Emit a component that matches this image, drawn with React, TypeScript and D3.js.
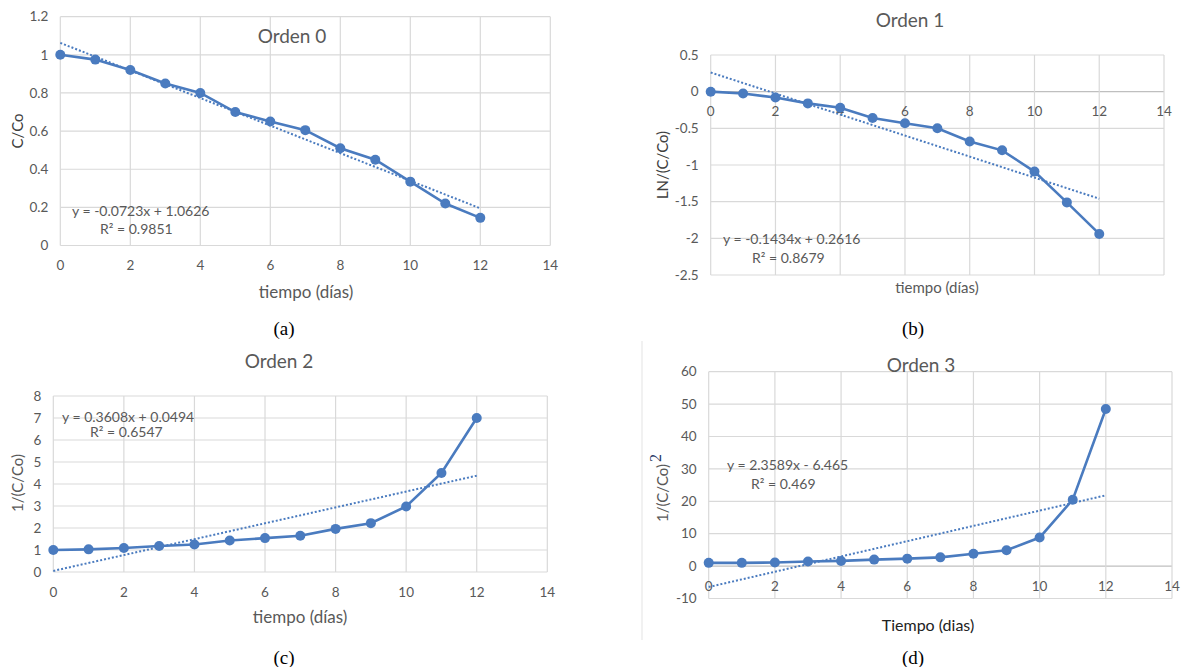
import React from 'react';
import * as d3 from 'd3';

// días de muestreo
const days = [0, 1, 2, 3, 4, 5, 6, 7, 8, 9, 10, 11, 12];

// valores por orden de reacción
const orden0 = [1, 0.975, 0.92, 0.85, 0.8, 0.7, 0.65, 0.605, 0.51, 0.45, 0.335, 0.22, 0.145];
const orden1 = [0, -0.025, -0.08, -0.16, -0.22, -0.36, -0.43, -0.5, -0.68, -0.8, -1.09, -1.51, -1.94];
const orden2 = [1, 1.03, 1.09, 1.18, 1.25, 1.43, 1.54, 1.65, 1.96, 2.22, 2.98, 4.5, 7.0];
const orden3 = [1, 1.0, 1.1, 1.4, 1.6, 2.0, 2.3, 2.7, 3.8, 4.9, 8.8, 20.5, 48.5];

// ajustes lineales (pendiente, intercepto)
const slopes = [-0.0723, -0.1434, 0.3608, 2.3589];
const intercepts = [1.0626, 0.2616, 0.0494, -6.465];
const eqLabels = ['y = -0.0723x + 1.0626', 'y = -0.1434x + 0.2616', 'y = 0.3608x + 0.0494', 'y = 2.3589x - 6.465'];
const r2Labels = ['R² = 0.9851', 'R² = 0.8679', 'R² = 0.6547', 'R² = 0.469'];

const xTicks = [0, 2, 4, 6, 8, 10, 12, 14];
const yTicks0 = [0, 0.2, 0.4, 0.6, 0.8, 1, 1.2];
const yTicks1 = [0.5, 0, -0.5, -1, -1.5, -2, -2.5];
const yTicks2 = [0, 1, 2, 3, 4, 5, 6, 7, 8];
const yTicks3 = [60, 50, 40, 30, 20, 10, 0, -10];

const BLUE = '#4a7bbf';
const GRID = '#d9d9d9';
const TXT = '#595959';
const FONT = 'Lato, "Open Sans", sans-serif';
const SERIF = '"Liberation Serif", "DejaVu Serif", serif';

type PanelProps = {
  values: number[];
  idx: number;
  yTicks: number[];
  xr: [number, number];
  yr: [number, number];
  yDom: [number, number];
  labelsAtZero?: boolean;
  eqPos: [number, number, number, number];
};

function Panel({ values, idx, yTicks, xr, yr, yDom, labelsAtZero, eqPos }: PanelProps) {
  const x = d3.scaleLinear().domain([0, 14]).range(xr);
  const y = d3.scaleLinear().domain(yDom).range(yr);
  const line = d3.line<number>().x((_, i) => x(days[i])).y(d => y(d));
  const fitY = (t: number) => slopes[idx] * t + intercepts[idx];
  const labelY = labelsAtZero ? y(0) + 20 : yr[0] + 20;
  const yMin = Math.min(...yDom), yMax = Math.max(...yDom);
  return (
    <g>
      {yTicks.map(t => (
        <line key={'h' + t} x1={xr[0]} x2={xr[1]} y1={y(t)} y2={y(t)}
          stroke={t === 0 && labelsAtZero ? '#bfbfbf' : GRID} strokeWidth={1.2} />
      ))}
      {xTicks.map(t => (
        <line key={'v' + t} x1={x(t)} x2={x(t)} y1={y(yMin)} y2={y(yMax)} stroke={GRID} strokeWidth={1.2} />
      ))}
      {yTicks.map(t => (
        <text key={'yl' + t} x={xr[0] - 12} y={y(t)} dy="0.35em" textAnchor="end"
          fontSize={13.5} fill={TXT} fontFamily={FONT}>{t}</text>
      ))}
      {xTicks.map(t => (
        <text key={'xl' + t} x={x(t)} y={labelY} dy="0.35em" textAnchor="middle"
          fontSize={13.5} fill={TXT} fontFamily={FONT}>{t}</text>
      ))}
      <line x1={x(0)} x2={x(12)} y1={y(fitY(0))} y2={y(fitY(12))}
        stroke={BLUE} strokeWidth={2} strokeDasharray="2 2" />
      <path d={line(values) || ''} fill="none" stroke={BLUE} strokeWidth={2.6} />
      {values.map((v, i) => (
        <circle key={i} cx={x(days[i])} cy={y(v)} r={5} fill={BLUE} />
      ))}
      <text x={eqPos[0]} y={eqPos[1]} dy="0.35em" fontSize={14} fill={TXT} fontFamily={FONT}>{eqLabels[idx]}</text>
      <text x={eqPos[2]} y={eqPos[3]} dy="0.35em" fontSize={14} fill={TXT} fontFamily={FONT}>{r2Labels[idx]}</text>
    </g>
  );
}

export default function App() {
  const titleStyle = { fontSize: 19, fill: TXT, fontFamily: FONT };
  const axStyle = { fill: TXT, fontFamily: FONT };
  const cap = { fontSize: 19, fill: '#000', style: { fontFamily: SERIF } };
  return (
    <svg width={1182} height={667} style={{ position: 'absolute', left: 0, top: 0, background: '#fff' }}>
      {/* (a) Orden 0 */}
      <Panel values={orden0} idx={0} yTicks={yTicks0} xr={[60.3, 550.3]} yr={[245.5, 16.7]} yDom={[0, 1.2]}
        eqPos={[72, 211, 100, 229]} />
      <text x={292} y={36} dy="0.35em" textAnchor="middle" {...titleStyle}>Orden 0</text>
      <text transform="translate(18,131) rotate(-90)" dy="0.35em" textAnchor="middle" fontSize={15} fill="#404040" fontFamily={FONT}>C/Co</text>
      <text x={306} y={292} dy="0.35em" textAnchor="middle" fontSize={17} {...axStyle}>tiempo (días)</text>
      <text x={284} y={328} dy="0.35em" textAnchor="middle" {...cap}>(a)</text>

      {/* (b) Orden 1 */}
      <Panel values={orden1} idx={1} yTicks={yTicks1} xr={[710.7, 1164]} yr={[275, 55]} yDom={[-2.5, 0.5]}
        labelsAtZero eqPos={[723, 239, 752, 258]} />
      <text x={910} y={20} dy="0.35em" textAnchor="middle" {...titleStyle}>Orden 1</text>
      <text transform="translate(663,165) rotate(-90)" dy="0.35em" textAnchor="middle" fontSize={15} fill="#404040" fontFamily={FONT}>LN/(C/Co)</text>
      <text x={937} y={288} dy="0.35em" textAnchor="middle" fontSize={15} {...axStyle}>tiempo (días)</text>
      <text x={913} y={328} dy="0.35em" textAnchor="middle" {...cap}>(b)</text>

      {/* (c) Orden 2 */}
      <Panel values={orden2} idx={2} yTicks={yTicks2} xr={[53.3, 547.3]} yr={[572, 396]} yDom={[0, 8]}
        eqPos={[62, 416.7, 90, 432]} />
      <text x={279} y={361} dy="0.35em" textAnchor="middle" {...titleStyle}>Orden 2</text>
      <text transform="translate(18,483) rotate(-90)" dy="0.35em" textAnchor="middle" fontSize={15} fill={TXT} fontFamily={FONT}>1/(C/Co)</text>
      <text x={300} y={617} dy="0.35em" textAnchor="middle" fontSize={17} {...axStyle}>tiempo (días)</text>
      <text x={284} y={657} dy="0.35em" textAnchor="middle" {...cap}>(c)</text>

      {/* (d) Orden 3 */}
      <line x1={642} x2={642} y1={341} y2={640} stroke="#e3e3e3" strokeWidth={1} />
      <Panel values={orden3} idx={3} yTicks={yTicks3} xr={[708.7, 1172]} yr={[598.5, 371.7]} yDom={[-10, 60]}
        labelsAtZero eqPos={[727, 465, 751, 484]} />
      <text x={921} y={365} dy="0.35em" textAnchor="middle" {...titleStyle}>Orden 3</text>
      <text transform="translate(663,493) rotate(-90)" dy="0.35em" textAnchor="middle" fontSize={15} fill={TXT} fontFamily={FONT}>
        1/(C/Co)
      </text>
      <text transform="translate(655,458) rotate(-90)" dy="0.35em" textAnchor="middle" fontSize={16} fill="#1f3864"
        style={{ fontFamily: SERIF }}>2</text>
      <text x={928} y={625} dy="0.35em" textAnchor="middle" fontSize={16} fill="#222" fontFamily={FONT}>Tiempo (dias)</text>
      <text x={913} y={657} dy="0.35em" textAnchor="middle" {...cap}>(d)</text>
    </svg>
  );
}
